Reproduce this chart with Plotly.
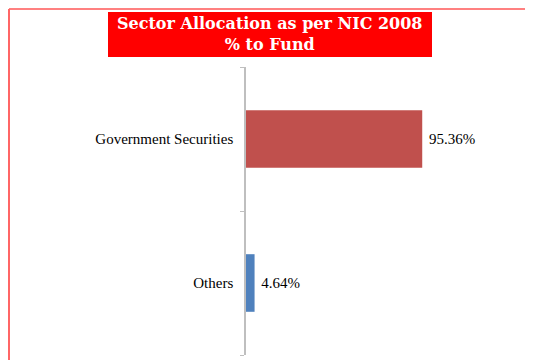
import plotly.graph_objects as go

categories = ["Others", "Government Securities"]
values = [4.64, 95.36]
bar_colors = ["#4F81BD", "#C0504D"]
title_lines = ["Sector Allocation as per NIC 2008", "% to Fund"]

# the page body adds an 8px offset, so the figure is a bit smaller than the window
W, H = 525, 352
L, R, T, B = 238, 56, 59, 5
pw, ph = W - L - R, H - T - B


def px(x):
    return (x - L) / pw


def py(y):
    return (H - B - y) / ph


fig = go.Figure(go.Bar(
    y=categories,
    x=values,
    orientation="h",
    width=0.4,
    marker={"color": bar_colors, "line": {"width": 0}},
    text=[f" {v:.2f}%" for v in values],
    textposition="outside",
    textfont={"family": "Liberation Serif", "size": 15, "color": "black"},
    cliponaxis=False,
))

fig.update_layout(
    width=W, height=H,
    margin={"l": L, "r": R, "t": T, "b": B, "pad": 0},
    paper_bgcolor="white",
    plot_bgcolor="white",
    showlegend=False,
    xaxis={"visible": False, "range": [0, 125]},
    yaxis={
        "range": [-0.5, 1.5],
        "showline": True, "linecolor": "#BFBFBF", "linewidth": 1.5,
        "ticks": "outside", "tickson": "boundaries", "ticklen": 4,
        "tickcolor": "#BFBFBF",
        "ticklabelstandoff": 8,
        "showgrid": False, "zeroline": False,
        "tickfont": {"family": "Liberation Serif", "size": 15, "color": "black"},
    },
    shapes=[
        # page border lines
        dict(type="line", xref="paper", yref="paper", x0=px(1), x1=px(W),
             y0=py(1), y1=py(1), line={"color": "#FF8080", "width": 2}),
        dict(type="line", xref="paper", yref="paper", x0=px(1), x1=px(1),
             y0=py(1), y1=py(H), line={"color": "#FF6666", "width": 2}),
        # title box
        dict(type="rect", xref="paper", yref="paper", x0=px(100), x1=px(424),
             y0=py(49), y1=py(4), fillcolor="#FF0000", line={"width": 0},
             layer="below"),
    ],
    annotations=[
        dict(xref="paper", yref="paper", x=px(262), y=py(26.5),
             text="<br>".join(title_lines), showarrow=False,
             font={"family": "DejaVu Serif", "size": 16, "color": "white", "weight": "bold"},
             xanchor="center", yanchor="middle", align="center"),
    ],
)

fig.write_html("out.html")
